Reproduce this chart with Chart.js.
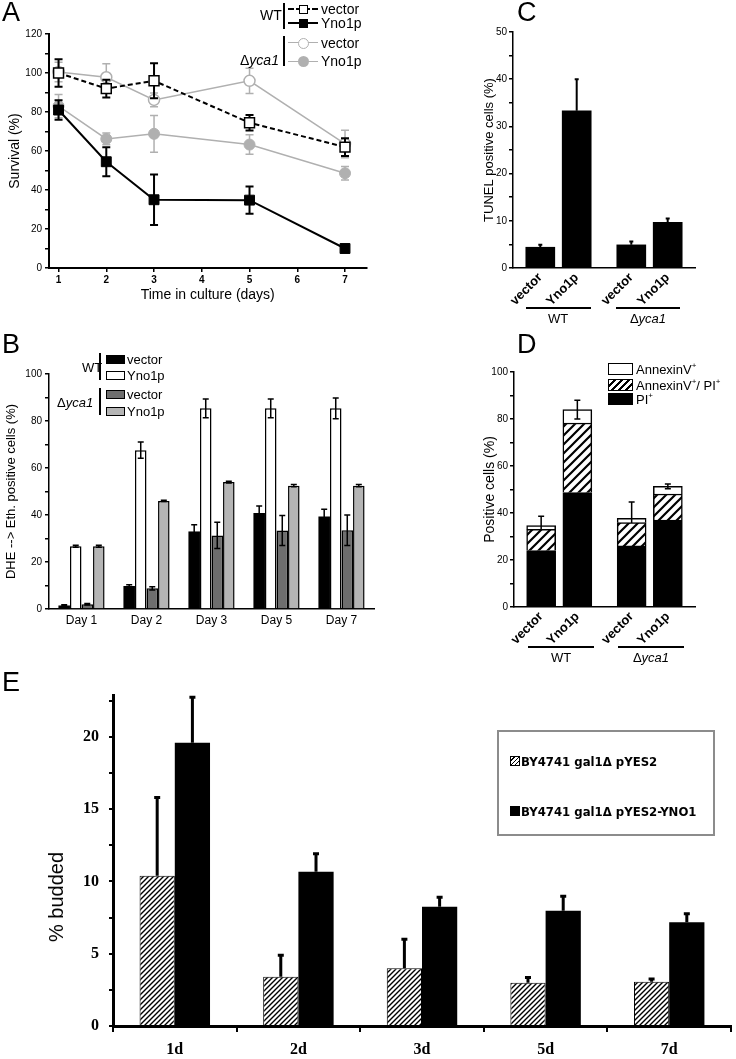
<!DOCTYPE html>
<html>
<head>
<meta charset="utf-8">
<script src="https://cdn.jsdelivr.net/npm/chart.js@4/dist/chart.umd.min.js"></script>
<style>
  body { margin: 0; background: #fff; }
  #wrap { position: relative; width: 736px; height: 1059px; overflow: hidden; background: #fff;
          font-family: 'Liberation Sans', Arial, sans-serif; color: #000; }
  canvas { position: absolute; }
  .t { position: absolute; line-height: 1; white-space: nowrap; transform: translateY(-50%); font-size: 13px; }
  .letter { position: absolute; font-size: 27px; line-height: 1; }
  .bar { position: absolute; width: 2px; background: #000; }
  .sw { position: absolute; box-sizing: border-box; }
  .hline { position: absolute; height: 0; }
  .under { position: absolute; height: 1.5px; background: #000; }
  .ctr { position: absolute; line-height: 1; font-size: 13px; transform: translate(-50%, -50%); white-space: nowrap; }
  #legE { position: absolute; left: 497px; top: 730px; width: 218px; height: 106px; box-sizing: border-box;
          border: 2px solid #8c8c8c; font-family: 'Liberation Sans Narrow', 'DejaVu Sans Condensed', sans-serif;
          font-weight: bold; font-size: 16px; }
  #titleE { position: absolute; left: 56px; top: 897px; font-size: 20px; line-height: 1; white-space: nowrap;
            transform: translate(-50%, -50%) rotate(-90deg); }
</style>
</head>
<body>
<div id="wrap">
  <canvas id="chartA" width="375" height="310" style="left:0;top:0"></canvas>
  <canvas id="chartB" width="380" height="340" style="left:0;top:300px"></canvas>
  <canvas id="chartC" width="256" height="330" style="left:480px;top:0"></canvas>
  <canvas id="chartD" width="256" height="340" style="left:480px;top:330px"></canvas>
  <canvas id="chartE" width="736" height="399" style="left:0;top:660px"></canvas>

  <div class="letter" style="left:2px;top:-1.5px">A</div>
  <div class="letter" style="left:2px;top:331px">B</div>
  <div class="letter" style="left:517px;top:-1.5px">C</div>
  <div class="letter" style="left:517px;top:331px">D</div>
  <div class="letter" style="left:2px;top:669px">E</div>

  <!-- legend A -->
  <div class="t" style="left:260px;top:15px;font-size:14px">WT</div>
  <div class="bar" style="left:283px;top:3px;height:26px"></div>
  <div class="hline" style="left:288px;top:8px;width:30px;border-top:2px dashed #000"></div>
  <div class="sw" style="left:299px;top:5px;width:9px;height:9px;background:#fff;border:1.5px solid #000"></div>
  <div class="t" style="left:321px;top:9px;font-size:14px">vector</div>
  <div class="hline" style="left:288px;top:22px;width:30px;border-top:2px solid #000"></div>
  <div class="sw" style="left:299px;top:19px;width:9px;height:9px;background:#000"></div>
  <div class="t" style="left:321px;top:23px;font-size:14px">Yno1p</div>
  <div class="t" style="left:240px;top:60px;font-size:14px">&Delta;<i>yca1</i></div>
  <div class="bar" style="left:283px;top:36px;height:30px"></div>
  <div class="hline" style="left:288px;top:42px;width:30px;border-top:1.5px solid #b0b0b0"></div>
  <div class="sw" style="left:298px;top:38px;width:11px;height:11px;border-radius:50%;background:#fff;border:1.5px solid #b0b0b0"></div>
  <div class="t" style="left:321px;top:43px;font-size:14px">vector</div>
  <div class="hline" style="left:288px;top:61px;width:30px;border-top:1.5px solid #b0b0b0"></div>
  <div class="sw" style="left:298px;top:56px;width:11px;height:11px;border-radius:50%;background:#b0b0b0"></div>
  <div class="t" style="left:321px;top:61px;font-size:14px">Yno1p</div>

  <!-- legend B -->
  <div class="t" style="left:82px;top:367px">WT</div>
  <div class="bar" style="left:99px;top:353px;height:27px"></div>
  <div class="sw" style="left:106px;top:355px;width:19px;height:9px;background:#000"></div>
  <div class="t" style="left:127px;top:359px">vector</div>
  <div class="sw" style="left:106px;top:371px;width:19px;height:9px;background:#fff;border:1.5px solid #000"></div>
  <div class="t" style="left:127px;top:375px">Yno1p</div>
  <div class="t" style="left:57px;top:402px">&Delta;<i>yca1</i></div>
  <div class="bar" style="left:99px;top:388px;height:27px"></div>
  <div class="sw" style="left:106px;top:390px;width:19px;height:9px;background:#6e6e6e;border:1.5px solid #000"></div>
  <div class="t" style="left:127px;top:394px">vector</div>
  <div class="sw" style="left:106px;top:407px;width:19px;height:9px;background:#b5b5b5;border:1.5px solid #000"></div>
  <div class="t" style="left:127px;top:411px">Yno1p</div>

  <!-- groups C -->
  <div class="under" style="left:526px;top:307px;width:65px"></div>
  <div class="ctr" style="left:558px;top:318px">WT</div>
  <div class="under" style="left:616px;top:307px;width:64px"></div>
  <div class="ctr" style="left:648px;top:318px">&Delta;<i>yca1</i></div>

  <!-- legend D -->
  <div class="sw" style="left:608px;top:363px;width:25px;height:12px;background:#fff;border:1.5px solid #000"></div>
  <div class="t" style="left:636px;top:369px">AnnexinV<sup style="font-size:8px">+</sup></div>
  <div class="sw" style="left:608px;top:379px;width:25px;height:12px;border:1.5px solid #000;background:repeating-linear-gradient(135deg,#fff 0 3px,#000 3px 5px)"></div>
  <div class="t" style="left:636px;top:385px">AnnexinV<sup style="font-size:8px">+</sup>/ PI<sup style="font-size:8px">+</sup></div>
  <div class="sw" style="left:608px;top:393px;width:25px;height:12px;background:#000"></div>
  <div class="t" style="left:636px;top:399px">PI<sup style="font-size:8px">+</sup></div>

  <!-- groups D -->
  <div class="under" style="left:528px;top:646px;width:66px"></div>
  <div class="ctr" style="left:561px;top:657px">WT</div>
  <div class="under" style="left:618px;top:646px;width:66px"></div>
  <div class="ctr" style="left:651px;top:657px">&Delta;<i>yca1</i></div>

  <!-- legend E -->
  <div id="legE">
    <div class="sw" style="left:11px;top:24px;width:10px;height:10px;border:1px solid #000;background:repeating-linear-gradient(135deg,#fff 0 2px,#000 2px 3px)"></div>
    <div class="t" style="left:22px;top:29px">BY4741 gal1&Delta; pYES2</div>
    <div class="sw" style="left:11px;top:74px;width:10px;height:10px;background:#000"></div>
    <div class="t" style="left:22px;top:79px">BY4741 gal1&Delta; pYES2-YNO1</div>
  </div>
  <div id="titleE">% budded</div>
</div>

<script>
// ---- panel A: survival
const aDays = [1, 2, 3, 5, 7];
const aTicksX = [1, 2, 3, 4, 5, 6, 7];
const aTicksY = [0, 10, 20, 30, 40, 50, 60, 70, 80, 90, 100, 110, 120];
const aWtVector = [100, 92, 96, 74.5, 62];
const aWtVectorErr = [7, 4.5, 9, 4, 4.5];
const aWtYno = [81, 54.5, 35, 34.8, 10];
const aWtYnoErr = [5, 7.4, 13, 7, 1.5];
const aDeltaVector = [100.5, 97.8, 86.2, 96, 63.6];
const aDeltaVectorErr = [5, 7, 3.5, 6.5, 7];
const aDeltaYno = [83, 66.2, 68.8, 63.3, 48.6];
const aDeltaYnoErr = [6, 3, 9.4, 5, 3.5];

// ---- panel B: DHE -> Eth positive
const bDays = ['Day 1', 'Day 2', 'Day 3', 'Day 5', 'Day 7'];
const bTicksY = [0, 10, 20, 30, 40, 50, 60, 70, 80, 90, 100];
const bWtVector = [1.5, 9.8, 33, 40.8, 39.4];
const bWtVectorErr = [0.3, 0.5, 2.8, 3, 3];
const bWtYno = [26.7, 67.6, 85.4, 85.4, 85.4];
const bWtYnoErr = [0.4, 3.5, 4, 4, 4.4];
const bDeltaVector = [2, 8.8, 31.3, 33.4, 33.5];
const bDeltaVectorErr = [0.3, 0.7, 5.6, 6.4, 6.5];
const bDeltaYno = [26.7, 46, 54, 52.5, 52.5];
const bDeltaYnoErr = [0.4, 0.3, 0.4, 0.5, 0.5];

// ---- panel C: TUNEL
const cLabels = ['vector', 'Yno1p', 'vector', 'Yno1p'];
const cTicksY = [0, 5, 10, 15, 20, 25, 30, 35, 40, 45, 50];
const cValues = [4.4, 33.3, 4.9, 9.7];
const cErr = [0.5, 6.7, 0.7, 0.8];

// ---- panel D: annexin / PI
const dLabels = ['vector', 'Yno1p', 'vector', 'Yno1p'];
const dTicksY = [0, 10, 20, 30, 40, 50, 60, 70, 80, 90, 100];
const dPI = [24, 48.7, 26, 37];
const dAnnexinPI = [9, 29.6, 9.9, 11.1];
const dAnnexin = [1.6, 5.7, 1.8, 3.2];
const dErr = [4, 4, 7, 1];

// ---- panel E: % budded
const eDays = ['1d', '2d', '3d', '5d', '7d'];
const eTicksY = [0, 2.5, 5, 7.5, 10, 12.5, 15, 17.5, 20, 22.5];
const eVector = [10.4, 3.4, 4.0, 3.0, 3.06];
const eVectorErr = [5.4, 1.5, 2.0, 0.35, 0.2];
const eYno1 = [19.6, 10.67, 8.25, 7.98, 7.17];
const eYno1Err = [3.15, 1.25, 0.65, 1.0, 0.6];

Chart.defaults.font.family = "'Liberation Sans', Arial, sans-serif";
Chart.defaults.color = '#000';

// C and D: 10 category slots, bars sit in slots 1, 3, 6, 8 (leaves the gap between WT and yca1)
const slotCount = 10;
const slotOf = [1, 3, 6, 8];
function toSlots(vals) {
  const out = new Array(slotCount).fill(null);
  slotOf.forEach((s, i) => { out[s] = vals[i]; });
  return out;
}
const slotLabels = (labels) => toSlots(labels).map(l => l || '');

// error bars, drawn through the y scale
const errorBars = {
  id: 'errorBars',
  beforeDatasetDraw(chart, args) {
    const ds = chart.data.datasets[args.index];
    if (ds.errors && ds.errorBehind) drawErr(chart, ds, args.meta);
  },
  afterDatasetDraw(chart, args) {
    const ds = chart.data.datasets[args.index];
    if (ds.errors && !ds.errorBehind) drawErr(chart, ds, args.meta);
  }
};

function drawErr(chart, ds, meta) {
  const ctx = chart.ctx;
  const y = chart.scales.y;
  ctx.save();
  ctx.strokeStyle = ds.errorColor || '#000';
  ctx.lineWidth = ds.errorWidth || 1.5;
  meta.data.forEach((el, i) => {
    const err = ds.errors[i];
    if (err == null || !isFinite(el.y)) return;
    const v = y.getValueForPixel(el.y);
    const top = y.getPixelForValue(v + err);
    const bot = ds.errorUpOnly ? el.y : y.getPixelForValue(v - err);
    const w = ds.errorCap || 3;
    ctx.beginPath();
    ctx.moveTo(el.x, top); ctx.lineTo(el.x, bot);
    ctx.moveTo(el.x - w, top); ctx.lineTo(el.x + w, top);
    if (!ds.errorUpOnly) { ctx.moveTo(el.x - w, bot); ctx.lineTo(el.x + w, bot); }
    ctx.stroke();
  });
  ctx.restore();
}

function hatch(size, lw) {
  const c = document.createElement('canvas');
  c.width = c.height = size;
  const x = c.getContext('2d');
  x.fillStyle = '#fff';
  x.fillRect(0, 0, size, size);
  x.strokeStyle = '#000';
  x.lineWidth = lw;
  x.beginPath();
  x.moveTo(-1, size + 1); x.lineTo(size + 1, -1);
  x.moveTo(-1, 1); x.lineTo(1, -1);
  x.moveTo(size - 1, size + 1); x.lineTo(size + 1, size - 1);
  x.stroke();
  return x.createPattern(c, 'repeat');
}

const base = {
  responsive: false,
  animation: false,
  devicePixelRatio: 1,
  plugins: { legend: { display: false }, tooltip: { enabled: false } }
};

function tickGrid(len, w) {
  return { display: true, drawOnChartArea: false, drawTicks: true, tickLength: len,
           color: '#000', tickColor: '#000', tickWidth: w, lineWidth: w };
}
const noGrid = { display: false, drawTicks: false };

// ---------- A
const pts = (ys) => aDays.map((d, i) => ({ x: d, y: ys[i] }));
new Chart(document.getElementById('chartA'), {
  type: 'line',
  data: {
    datasets: [
      { data: pts(aWtVector), errors: aWtVectorErr, errorBehind: true, errorWidth: 2, errorCap: 4,
        borderColor: '#000', borderWidth: 2, borderDash: [5, 3], pointStyle: 'rect', pointRadius: 7,
        pointBackgroundColor: '#fff', pointBorderColor: '#000', pointBorderWidth: 1.5 },
      { data: pts(aWtYno), errors: aWtYnoErr, errorBehind: true, errorWidth: 2, errorCap: 4,
        borderColor: '#000', borderWidth: 2, pointStyle: 'rect', pointRadius: 7,
        pointBackgroundColor: '#000', pointBorderColor: '#000', pointBorderWidth: 1 },
      { data: pts(aDeltaVector), errors: aDeltaVectorErr, errorBehind: true, errorColor: '#b0b0b0', errorWidth: 1.5, errorCap: 4,
        borderColor: '#b0b0b0', borderWidth: 1.5, pointStyle: 'circle', pointRadius: 5.5,
        pointBackgroundColor: '#fff', pointBorderColor: '#b0b0b0', pointBorderWidth: 1.5 },
      { data: pts(aDeltaYno), errors: aDeltaYnoErr, errorBehind: true, errorColor: '#b0b0b0', errorWidth: 1.5, errorCap: 4,
        borderColor: '#b0b0b0', borderWidth: 1.5, pointStyle: 'circle', pointRadius: 5.5,
        pointBackgroundColor: '#b0b0b0', pointBorderColor: '#b0b0b0', pointBorderWidth: 1 }
    ]
  },
  options: Object.assign({}, base, {
    layout: { padding: { top: 34, right: 7, left: 0, bottom: 0 } },
    scales: {
      x: { type: 'linear', min: 0.8, max: 7.45,
           afterFit: s => { s.height = 42; },
           afterBuildTicks: s => { s.ticks = aTicksX.map(v => ({ value: v })); },
           grid: tickGrid(4, 1.5), border: { color: '#000', width: 2 },
           ticks: { font: { size: 10, weight: 'bold' }, padding: 2 },
           title: { display: true, text: 'Time in culture (days)', font: { size: 14 }, padding: { top: 0, bottom: 6 } } },
      y: { min: 0, max: 120,
           afterFit: s => { s.width = 49; },
           afterBuildTicks: s => { s.ticks = aTicksY.map(v => ({ value: v })); },
           grid: tickGrid(4, 1.5), border: { color: '#000', width: 2 },
           ticks: { font: { size: 10 }, padding: 3, callback: v => (v % 20 === 0 ? v : '') },
           title: { display: true, text: 'Survival (%)', font: { size: 14 }, padding: { top: 7, bottom: 0 } } }
    }
  }),
  plugins: [errorBars]
});

// ---------- B
const bBar = (vals, errs, fill, border) => ({
  data: vals, errors: errs, errorWidth: 1.5, errorCap: 3,
  backgroundColor: fill, borderColor: '#000', borderWidth: border
});
new Chart(document.getElementById('chartB'), {
  type: 'bar',
  data: {
    labels: bDays,
    datasets: [
      bBar(bWtVector, bWtVectorErr, '#000', 0),
      bBar(bWtYno, bWtYnoErr, '#fff', 1.5),
      bBar(bDeltaVector, bDeltaVectorErr, '#6e6e6e', 1.5),
      bBar(bDeltaYno, bDeltaYnoErr, '#b5b5b5', 1.5)
    ]
  },
  options: Object.assign({}, base, {
    datasets: { bar: { categoryPercentage: 0.71, barPercentage: 1 } },
    layout: { padding: { top: 74, right: 6, left: 0, bottom: 0 } },
    scales: {
      x: { afterFit: s => { s.height = 31; },
           grid: noGrid, border: { color: '#000', width: 1.5 },
           ticks: { font: { size: 12 }, padding: 4 } },
      y: { min: 0, max: 100,
           afterFit: s => { s.width = 49; },
           afterBuildTicks: s => { s.ticks = bTicksY.map(v => ({ value: v })); },
           grid: tickGrid(4, 1.5), border: { color: '#000', width: 1.5 },
           ticks: { font: { size: 10 }, padding: 3, callback: v => (v % 20 === 0 ? v : '') },
           title: { display: true, text: 'DHE --> Eth. positive cells (%)', font: { size: 13 }, padding: { top: 4, bottom: 0 } } }
    }
  }),
  plugins: [errorBars]
});

// ---------- C
new Chart(document.getElementById('chartC'), {
  type: 'bar',
  data: {
    labels: slotLabels(cLabels),
    datasets: [
      { data: toSlots(cValues), errors: toSlots(cErr), errorUpOnly: true,
        errorWidth: 2, errorCap: 2, backgroundColor: '#000', barThickness: 29 }
    ]
  },
  options: Object.assign({}, base, {
    layout: { padding: { top: 32, right: 41, left: 0, bottom: 0 } },
    scales: {
      x: { afterFit: s => { s.height = 62; },
           grid: noGrid, border: { color: '#000', width: 1.5 },
           ticks: { font: { size: 13, weight: 'bold' }, padding: 2, minRotation: 45, maxRotation: 45, autoSkip: false } },
      y: { min: 0, max: 50,
           afterFit: s => { s.width = 33; },
           afterBuildTicks: s => { s.ticks = cTicksY.map(v => ({ value: v })); },
           grid: tickGrid(4, 1.5), border: { color: '#000', width: 1.5 },
           ticks: { font: { size: 10 }, padding: 2, callback: v => (v % 10 === 0 ? v : '') },
           title: { display: true, text: 'TUNEL positive cells (%)', font: { size: 13 }, padding: { top: 2, bottom: 0 } } }
    }
  }),
  plugins: [errorBars]
});

// ---------- D
new Chart(document.getElementById('chartD'), {
  type: 'bar',
  data: {
    labels: slotLabels(dLabels),
    datasets: [
      { data: toSlots(dPI), backgroundColor: '#000', borderColor: '#000', borderWidth: 1.5, barThickness: 29 },
      { data: toSlots(dAnnexinPI), backgroundColor: hatch(9, 2.2), borderColor: '#000', borderWidth: 1.5, barThickness: 29 },
      { data: toSlots(dAnnexin), backgroundColor: '#fff', borderColor: '#000', borderWidth: 1.5, barThickness: 29,
        errors: toSlots(dErr), errorWidth: 1.5, errorCap: 3 }
    ]
  },
  options: Object.assign({}, base, {
    layout: { padding: { top: 42, right: 41, left: 0, bottom: 0 } },
    scales: {
      x: { stacked: true,
           afterFit: s => { s.height = 63; },
           grid: noGrid, border: { color: '#000', width: 1.5 },
           ticks: { font: { size: 13, weight: 'bold' }, padding: 2, minRotation: 45, maxRotation: 45, autoSkip: false } },
      y: { min: 0, max: 100, stacked: true,
           afterFit: s => { s.width = 34; },
           afterBuildTicks: s => { s.ticks = dTicksY.map(v => ({ value: v })); },
           grid: tickGrid(4, 1.5), border: { color: '#000', width: 1.5 },
           ticks: { font: { size: 10 }, padding: 2, callback: v => (v % 20 === 0 ? v : '') },
           title: { display: true, text: 'Positive cells (%)', font: { size: 14 }, padding: { top: 2, bottom: 0 } } }
    }
  }),
  plugins: [errorBars]
});

// ---------- E
new Chart(document.getElementById('chartE'), {
  type: 'bar',
  data: {
    labels: eDays,
    datasets: [
      { data: eVector, errors: eVectorErr, errorUpOnly: true, errorWidth: 3, errorCap: 3,
        backgroundColor: hatch(5, 1.4), borderColor: '#000', borderWidth: 1 },
      { data: eYno1, errors: eYno1Err, errorUpOnly: true, errorWidth: 3, errorCap: 3,
        backgroundColor: '#000' }
    ]
  },
  options: Object.assign({}, base, {
    datasets: { bar: { categoryPercentage: 0.57, barPercentage: 1 } },
    layout: { padding: { top: 35, right: 5, left: 0, bottom: 0 } },
    scales: {
      x: { afterFit: s => { s.height = 33; },
           grid: Object.assign(tickGrid(6, 2), { offset: true }), border: { color: '#000', width: 3 },
           ticks: { font: { family: "'Liberation Serif', serif", size: 16, weight: 'bold' }, padding: 8 } },
      y: { min: 0, max: 22.9,
           afterFit: s => { s.width = 113; },
           afterBuildTicks: s => { s.ticks = eTicksY.map(v => ({ value: v })); },
           grid: tickGrid(4, 2), border: { color: '#000', width: 3 },
           ticks: { font: { family: "'Liberation Serif', serif", size: 16, weight: 'bold' }, padding: 10,
                    callback: v => (v % 5 === 0 ? v : '') } }
    }
  }),
  plugins: [errorBars]
});
</script>
</body>
</html>
